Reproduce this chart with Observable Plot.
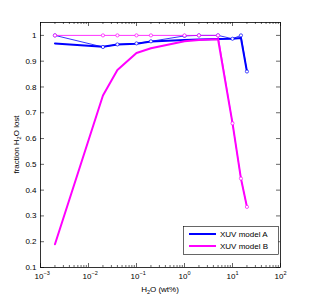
<!DOCTYPE html>
<html><head><meta charset="utf-8">
<script src="https://cdn.jsdelivr.net/npm/d3@7"></script>
<script src="https://cdn.jsdelivr.net/npm/@observablehq/plot@0.6"></script>
<style>body{margin:0;background:#fff;font-family:"Liberation Sans",Arial,sans-serif} #c{position:relative;width:310px;height:300px}</style>
</head><body><div id="c"></div>
<script>
// water content (wt%)
const h2o = [0.002, 0.02, 0.04, 0.1, 0.2, 1, 2, 5, 10, 15, 20];
// fraction of water lost
const modelA_thick = [0.969, 0.956, 0.965, 0.968, 0.976, 0.982, 0.984, 0.986, 0.987, 0.990, 0.86];
const modelA_thin  = [1.0, 0.955, 0.965, 0.969, 0.977, 0.998, 1.0, 1.0, 0.987, 1.0, 0.86];
const modelB_thick = [0.19, 0.767, 0.866, 0.932, 0.950, 0.977, 0.982, 0.985, 0.66, 0.445, 0.335];
const modelB_thin  = [1.0, 1.0, 1.0, 1.0, 1.0, 1.0, 1.0, 1.0, 0.659, 0.445, 0.335];
const seriesNames = ["XUV model A", "XUV model B"];
const seriesColors = ["#0000ff", "#ff00ff"];
const yTicks = [0.1, 0.2, 0.3, 0.4, 0.5, 0.6, 0.7, 0.8, 0.9, 1];
const yTickLabels = ["0.1","0.2","0.3","0.4","0.5","0.6","0.7","0.8","0.9","1"];
const xTicks = [1e-3, 1e-2, 1e-1, 1e0, 1e1, 1e2];
const xTickExp = ["−3", "−2", "−1", "0", "1", "2"];
const xMinor = [];
for (let k = -3; k <= 1; k++) for (let m = 2; m <= 9; m++) xMinor.push(m * Math.pow(10, k));

const W = 310, H = 300, mL = 40, mR = 30, mT = 22, mB = 33;
const pw = W - mL - mR, ph = H - mT - mB;
const rows = a => h2o.map((x, i) => ({x, y: a[i]}));
const font = "Liberation Sans, Arial, sans-serif";
const fs = 8;

const chart = Plot.plot({
  width: W, height: H,
  marginLeft: mL, marginRight: mR, marginTop: mT, marginBottom: mB,
  style: {fontFamily: font, background: "#fff"},
  x: {type: "log", domain: [1e-3, 1e2], axis: null},
  y: {domain: [0.1, 1.05], axis: null},
  marks: [
    Plot.line(rows(modelA_thick), {x: "x", y: "y", stroke: seriesColors[0], strokeWidth: 2}),
    Plot.line(rows(modelB_thick), {x: "x", y: "y", stroke: seriesColors[1], strokeWidth: 2}),
    Plot.line(rows(modelA_thin), {x: "x", y: "y", stroke: seriesColors[0], strokeWidth: 0.8}),
    Plot.dot(rows(modelA_thin), {x: "x", y: "y", r: 1.6, stroke: seriesColors[0], fill: "#fff", strokeWidth: 0.7}),
    Plot.line(rows(modelB_thin), {x: "x", y: "y", stroke: seriesColors[1], strokeWidth: 0.8}),
    Plot.dot(rows(modelB_thin), {x: "x", y: "y", r: 1.6, stroke: seriesColors[1], fill: "#fff", strokeWidth: 0.7}),
    // ticks (inside, MATLAB style)
    Plot.tickX(xTicks, {x: d => d, stroke: "#000", strokeWidth: 0.6, insetTop: ph - 4}),
    Plot.tickX(xTicks, {x: d => d, stroke: "#000", strokeWidth: 0.6, insetBottom: ph - 4}),
    Plot.tickX(xMinor, {x: d => d, stroke: "#000", strokeWidth: 0.6, insetTop: ph - 2}),
    Plot.tickX(xMinor, {x: d => d, stroke: "#000", strokeWidth: 0.6, insetBottom: ph - 2}),
    Plot.tickY(yTicks, {y: d => d, stroke: "#000", strokeWidth: 0.6, insetRight: pw - 4}),
    Plot.tickY(yTicks, {y: d => d, stroke: "#000", strokeWidth: 0.6, insetLeft: pw - 4}),
    Plot.frame({stroke: "#000", strokeWidth: 0.8}),
    // tick labels
    Plot.text(yTicks, {y: d => d, text: (d, i) => yTickLabels[i], frameAnchor: "left", textAnchor: "end", dx: -4, fontSize: fs, fill: "#000"}),
    Plot.text(xTicks, {x: d => d, text: () => "10", frameAnchor: "bottom", textAnchor: "middle", dy: 11, dx: -1.5, fontSize: fs, fill: "#000"}),
    Plot.text(xTicks, {x: d => d, text: (d, i) => xTickExp[i], frameAnchor: "bottom", textAnchor: "start", dy: 7, dx: 3, fontSize: 5.5, fill: "#000"})
  ]
});
document.getElementById("c").appendChild(chart);

const svg = d3.select(chart);
// axis titles with subscripts
const xl = svg.append("text").attr("x", mL + pw / 2).attr("y", H - 8).attr("text-anchor", "middle")
  .attr("font-size", fs).attr("font-family", font).attr("fill", "#000");
xl.append("tspan").text("H");
xl.append("tspan").text("2").attr("font-size", 5.5).attr("dy", 2);
xl.append("tspan").text("O (wt%)").attr("dy", -2);

const yl = svg.append("text").attr("transform", `translate(19,${mT + ph / 2}) rotate(-90)`).attr("text-anchor", "middle")
  .attr("font-size", fs).attr("font-family", font).attr("fill", "#000");
yl.append("tspan").text("fraction H");
yl.append("tspan").text("2").attr("font-size", 5.5).attr("dy", 2);
yl.append("tspan").text("O lost").attr("dy", -2);

// legend
const lg = svg.append("g");
lg.append("rect").attr("x", 183.5).attr("y", 226.5).attr("width", 95).attr("height", 28)
  .attr("fill", "#fff").attr("stroke", "#000").attr("stroke-width", 0.6);
seriesNames.forEach((name, i) => {
  const y = 234 + i * 12;
  lg.append("line").attr("x1", 189).attr("x2", 216).attr("y1", y).attr("y2", y)
    .attr("stroke", seriesColors[i]).attr("stroke-width", 2);
  lg.append("text").attr("x", 220).attr("y", y + 2.8).attr("text-anchor", "start").attr("font-size", fs).attr("font-family", font)
    .attr("fill", "#000").text(name);
});
</script>
</body></html>
